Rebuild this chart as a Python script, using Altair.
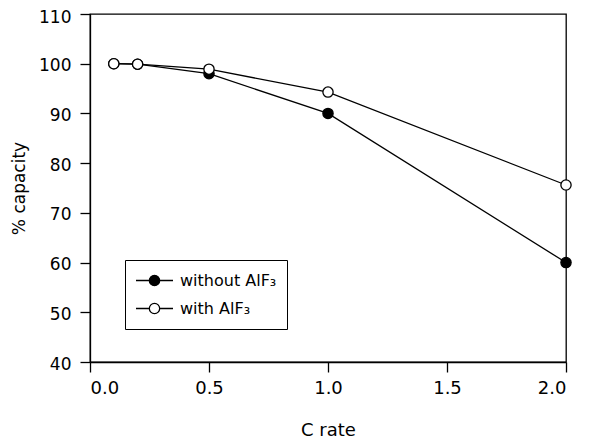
import altair as alt
import pandas as pd

c_rate = [0.1, 0.2, 0.5, 1.0, 2.0]
without_alf3 = [100.0, 99.9, 98.0, 90.0, 60.0]
with_alf3 = [100.0, 99.9, 98.9, 94.3, 75.6]
series_names = ["without AlF\u2083", "with AlF\u2083"]
series_fill = ["black", "white"]
x_ticks = [0.0, 0.5, 1.0, 1.5, 2.0]
y_ticks = [40, 50, 60, 70, 80, 90, 100, 110]

rows = []
for order, (name, vals) in enumerate(zip(series_names, [without_alf3, with_alf3])):
    for xv, yv in zip(c_rate, vals):
        rows.append({"series": name, "order": order, "c_rate": xv, "capacity": yv})
df = pd.DataFrame(rows)

FONT = "DejaVu Sans"

x_enc = alt.X(
    "c_rate:Q",
    scale=alt.Scale(domain=[0, 2], nice=False, zero=False),
    axis=alt.Axis(values=x_ticks, format=".1f", title="C rate", grid=False,
                  tickSize=10, labelPadding=7, titlePadding=24),
)
y_enc = alt.Y(
    "capacity:Q",
    scale=alt.Scale(domain=[40, 110], nice=False, zero=False),
    axis=alt.Axis(values=y_ticks, format="d", title="% capacity", grid=False,
                  tickSize=10, labelPadding=9, titleX=-62, titleFontSize=17,
                  labelFontSize=17,
                  labelOffset={"condition": {"test": "datum.value == 110", "value": 3.5},
                               "value": 2}),
)

lines = alt.Chart(df).mark_line(color="black", strokeWidth=1.3).encode(
    x=x_enc, y=y_enc, detail="series:N", order="c_rate:Q"
)

legend_path = ("M-1,0L-0.28,0M0.28,0L1,0"
               "M-0.28,0A0.28,0.28 0 1,1 0.28,0A0.28,0.28 0 1,1 -0.28,0Z")

points = alt.Chart(df).mark_point(
    shape="circle", size=105, stroke="black", strokeWidth=1.3, opacity=1, filled=False
).encode(
    x=x_enc,
    y=y_enc,
    fill=alt.Fill(
        "series:N",
        scale=alt.Scale(domain=series_names, range=series_fill),
        sort=series_names,
        legend=alt.Legend(
            title=None,
            orient="none",
            legendX=35,
            legendY=246,
            symbolType=legend_path,
            symbolSize=1369,
            symbolStrokeColor="black",
            symbolStrokeWidth=1.3,
            symbolOpacity=1,
            labelFont=FONT,
            labelFontSize=16,
            labelColor="black",
            labelOffset=6,
            clipHeight=21,
            strokeColor="black",
            fillColor="white",
            padding=10,
            rowPadding=7,
            cornerRadius=0,
        ),
    ),
    order=alt.Order("order:Q"),
)

chart = (
    alt.layer(lines, points)
    .properties(
        width=476,
        height=348,
        padding={"left": 82, "top": 6, "right": 14, "bottom": 76},
        autosize=alt.AutoSizeParams(type="none"),
        background="white",
    )
    .configure_view(stroke="black", strokeWidth=1.3)
    .configure_axis(
        labelFont=FONT, titleFont=FONT, labelFontSize=18, titleFontSize=18,
        labelColor="black", titleColor="black", titleFontWeight="normal",
        domainColor="black", tickColor="black", domainWidth=1.3, tickWidth=1.3,
    )
)

chart.save("out.html", embed_options={"renderer": "svg", "actions": False})
